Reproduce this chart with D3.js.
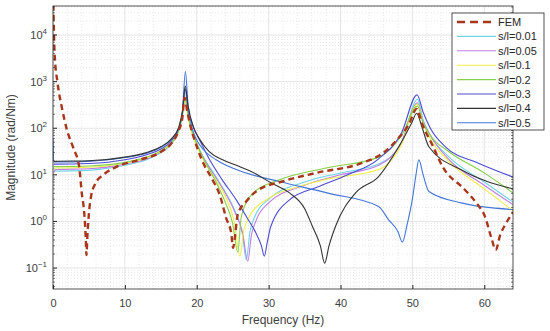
<!DOCTYPE html>
<html>
<head>
<meta charset="utf-8">
<script src="https://cdn.jsdelivr.net/npm/d3@7"></script>
<style>
  body { margin: 0; background: #fff; }
  svg { display: block; font-family: 'Liberation Sans', Arial, sans-serif; }
</style>
</head>
<body>
<div id="container"></div>
<script>
// values: frequency (Hz) and magnitude (rad/Nm)
const femF = [0.05, 0.22, 0.64, 1.25, 1.94, 2.85, 3.64, 4.0, 4.35, 4.55, 4.65, 4.8, 5.0, 5.3, 5.9, 7.0, 8.9, 12, 15, 16.5, 17.5, 18.0, 18.3, 18.7, 19.2, 19.7, 20.7, 22.2, 23.2, 24.1, 24.8, 25.05, 25.3, 25.7, 26.9, 28.25, 31.9, 36.6, 43, 46, 48, 49.5, 50.6, 51.3, 52.9, 54.1, 57.3, 58.9, 60.1, 61, 61.6, 62.2, 63, 63.6, 64]
const femM = [45000, 4100, 930, 270, 92, 37, 15, 4.1, 1.5, 0.47, 0.19, 0.55, 1.5, 3.5, 6.5, 10, 15, 21, 31, 48, 90, 170, 450, 220, 100, 56, 21, 7.8, 3.7, 1.17, 0.56, 0.27, 0.45, 1.4, 2.7, 4.4, 7.2, 11, 18, 30, 60, 120, 260, 130, 40, 16, 4.8, 2.5, 1.27, 0.44, 0.245, 0.5, 0.9, 1.27, 1.6]

const s001F = [0.1, 0.4, 5, 10, 13, 15, 16.5, 17.5, 18.0, 18.4, 18.8, 19.3, 20, 21, 22.5, 24, 25.3, 26.3, 26.9, 27.4, 28, 30, 35, 40, 45.3, 48.5, 50.7, 51.5, 52.5, 55, 60, 64]
const s001M = [14, 12, 12.5, 16, 21, 30, 46, 90, 200, 700, 200, 90, 48, 23, 10, 4.2, 1.7, 0.6, 0.15, 0.6, 1.2, 3, 7, 11, 17, 50, 420, 150, 70, 25, 7, 2.6]

const s005F = [0.1, 0.4, 5, 10, 13, 15, 16.5, 17.5, 18.0, 18.35, 18.8, 19.3, 20, 21, 22.5, 24, 25.3, 26.4, 27.1, 27.6, 28.2, 30, 35, 40, 45.3, 48.5, 50.7, 51.5, 52.5, 55, 60, 64]
const s005M = [11, 13, 13.5, 17, 22, 31, 47, 90, 190, 430, 180, 85, 45, 22, 9.5, 4, 1.6, 0.55, 0.14, 0.5, 1.0, 2.5, 6, 10, 16, 50, 350, 140, 70, 22, 6, 2.3]

const s01F = [0.1, 0.4, 5, 10, 13, 15, 16.5, 17.5, 18.0, 18.35, 18.8, 19.3, 20, 21, 22.5, 24, 25.2, 26.0, 26.5, 27.3, 30.1, 34, 38, 45.3, 48.5, 50.7, 51.5, 52.5, 55, 60, 64]
const s01M = [13, 14, 14.5, 18, 23, 32, 48, 88, 180, 420, 170, 80, 42, 20, 8.5, 3.4, 1.0, 0.18, 0.6, 1.26, 3.2, 5.5, 8, 13, 45, 330, 130, 60, 20, 5, 1.7]

const s02F = [0.1, 0.4, 5, 10, 13, 15, 16.5, 17.5, 18.0, 18.35, 18.7, 19.2, 19.8, 21, 22.5, 24, 25, 25.7, 26.2, 27.8, 31.5, 38, 45.3, 48.5, 50.7, 51.5, 52.5, 55, 60, 64]
const s02M = [15, 15, 15.5, 18.5, 24, 33, 50, 90, 190, 450, 230, 100, 56, 21, 8, 2.5, 0.9, 0.22, 1.26, 4, 7.8, 14, 24, 70, 300, 130, 70, 32, 11, 4.1]

const s03F = [0.1, 0.4, 5, 10, 13, 15, 16.5, 17.5, 18.0, 18.4, 18.8, 19.5, 20.4, 21.8, 23.5, 25.5, 27, 28.25, 29.0, 29.4, 29.8, 30.3, 32.9, 37, 41, 45.3, 48.5, 50.65, 51.5, 52.5, 54.6, 59.2, 64]
const s03M = [17, 17, 17.5, 21, 27, 36, 54, 98, 210, 700, 250, 110, 56, 21, 8, 2.9, 1.2, 0.56, 0.3, 0.18, 0.35, 0.78, 2.9, 5.6, 10, 22, 80, 520, 220, 100, 40, 17.8, 9]

const s04F = [0.1, 0.4, 5, 10, 13, 15, 16.5, 17.5, 18.0, 18.4, 18.8, 19.5, 20.5, 21.7, 23.6, 25.5, 27.5, 30.5, 32.9, 35, 36.1, 37.2, 37.8, 38.4, 39.3, 42.1, 45.3, 48.1, 49.9, 50.6, 51.3, 52.3, 56.8, 64]
const s04M = [19, 19.5, 20, 24, 30, 40, 60, 105, 230, 800, 300, 110, 55, 32, 21, 16, 12, 6.5, 4.1, 1.9, 0.78, 0.3, 0.127, 0.3, 0.78, 4.1, 9.2, 40, 130, 210, 110, 40, 12.8, 5]

const s05F = [0, 0.1, 0.4, 5, 10, 13, 15, 16.5, 17.5, 18.0, 18.42, 18.8, 19.3, 19.9, 20.9, 22.7, 26.9, 31.5, 38.4, 45.3, 46.7, 48.0, 48.6, 49.3, 50.0, 50.5, 50.9, 51.5, 52.3, 56.8, 64]
const s05M = [60, 20, 19, 19.5, 23.5, 29, 39, 58, 102, 220, 1650, 300, 110, 60, 35, 21, 10.9, 7.2, 4, 2.1, 1.08, 0.6, 0.36, 0.9, 3, 10, 21, 10, 4.4, 2.5, 1.8]

const seriesNames = ['FEM', 's/l=0.01', 's/l=0.05', 's/l=0.1', 's/l=0.2', 's/l=0.3', 's/l=0.4', 's/l=0.5']
const seriesF = [femF, s001F, s005F, s01F, s02F, s03F, s04F, s05F]
const seriesM = [femM, s001M, s005M, s01M, s02M, s03M, s04M, s05M]
const seriesColors = ['#a8361b', '#6fd5e6', '#c07de2', '#f2ef45', '#88cf4a', '#4c4cd2', '#333333', '#4477d8']

const xTicks = [0, 10, 20, 30, 40, 50, 60]
const yExps = [-1, 0, 1, 2, 3, 4]

chartIt()

function chartIt() {
  const w = 550
  const h = 331
  const left = 53
  const right = 513
  const top = 6
  const bottom = 289

  const svg = d3.select('div#container')
    .append('svg')
    .attr('width', w)
    .attr('height', h)

  const xScale = d3.scaleLinear()
    .domain([0, 64])
    .range([left, right])

  const yScale = d3.scaleLog()
    .domain([0.0355, 42000])
    .range([bottom, top])

  svg.append('defs').append('clipPath')
    .attr('id', 'plot-clip')
    .append('rect')
    .attr('x', left)
    .attr('y', top)
    .attr('width', right - left)
    .attr('height', bottom - top)

  // minor grid (dotted)
  const minorY = []
  for (let e = -2; e <= 4; e++) {
    for (let k = 2; k <= 9; k++) {
      const v = k * Math.pow(10, e)
      if (v > 0.0355 && v < 42000) minorY.push(v)
    }
  }
  const minorX = d3.range(2, 64, 2).filter(v => v % 10 !== 0)

  const grid = svg.append('g').attr('id', 'grid')
  grid.selectAll('.minor-y')
    .data(minorY)
    .enter().append('line')
    .attr('x1', left).attr('x2', right)
    .attr('y1', d => yScale(d)).attr('y2', d => yScale(d))
    .attr('stroke', '#d6d6d6')
    .attr('stroke-width', 0.6)
    .attr('stroke-dasharray', '1,2')
  grid.selectAll('.minor-x')
    .data(minorX)
    .enter().append('line')
    .attr('x1', d => xScale(d)).attr('x2', d => xScale(d))
    .attr('y1', top).attr('y2', bottom)
    .attr('stroke', '#dcdcdc')
    .attr('stroke-width', 0.6)
    .attr('stroke-dasharray', '1,2')
  grid.selectAll('.major-y')
    .data(yExps.map(e => Math.pow(10, e)))
    .enter().append('line')
    .attr('x1', left).attr('x2', right)
    .attr('y1', d => yScale(d)).attr('y2', d => yScale(d))
    .attr('stroke', '#dedede')
    .attr('stroke-width', 0.8)
  grid.selectAll('.major-x')
    .data(xTicks)
    .enter().append('line')
    .attr('x1', d => xScale(d)).attr('x2', d => xScale(d))
    .attr('y1', top).attr('y2', bottom)
    .attr('stroke', '#dedede')
    .attr('stroke-width', 0.8)

  // curves, drawn in the reverse legend order so FEM ends on top
  const plot = svg.append('g').attr('clip-path', 'url(#plot-clip)')
  const line = d3.line()
    .x(d => xScale(d[0]))
    .y(d => yScale(d[1]))
    .curve(d3.curveMonotoneX)

  const order = [1, 2, 3, 4, 5, 7, 6, 0]
  order.forEach(i => {
    const pts = seriesF[i].map((f, j) => [f, seriesM[i][j]])
    plot.append('path')
      .datum(pts)
      .attr('fill', 'none')
      .attr('stroke', seriesColors[i])
      .attr('stroke-width', i === 0 ? 2.4 : 1.1)
      .attr('stroke-dasharray', i === 0 ? '6,4' : null)
      .attr('d', line)
  })

  // axes box
  svg.append('rect')
    .attr('x', left).attr('y', top)
    .attr('width', right - left).attr('height', bottom - top)
    .attr('fill', 'none')
    .attr('stroke', '#262626')
    .attr('stroke-width', 0.8)

  const xAxis = d3.axisBottom(xScale)
    .tickValues(xTicks)
    .tickSize(-4)
    .tickPadding(10)
    .tickFormat(d3.format('d'))

  const gx = svg.append('g')
    .attr('transform', 'translate(0,' + bottom + ')')
    .call(xAxis)
    .attr('id', 'x-axis')
  gx.select('.domain').remove()
  gx.selectAll('text').attr('fill', '#404040').style('font-size', '11px')
  gx.selectAll('line').attr('stroke', '#262626')

  // y axis: ticks + minor ticks, labels as 10^n
  const gy = svg.append('g').attr('id', 'y-axis')
  gy.selectAll('.ytick')
    .data(yExps.map(e => Math.pow(10, e)))
    .enter().append('line')
    .attr('x1', left).attr('x2', left + 4)
    .attr('y1', d => yScale(d)).attr('y2', d => yScale(d))
    .attr('stroke', '#262626')
  gy.selectAll('.yminor')
    .data(minorY)
    .enter().append('line')
    .attr('x1', left).attr('x2', left + 2)
    .attr('y1', d => yScale(d)).attr('y2', d => yScale(d))
    .attr('stroke', '#262626')
    .attr('stroke-width', 0.6)
  gy.selectAll('.yminor-r')
    .data(minorY)
    .enter().append('line')
    .attr('x1', right).attr('x2', right - 2)
    .attr('y1', d => yScale(d)).attr('y2', d => yScale(d))
    .attr('stroke', '#262626')
    .attr('stroke-width', 0.6)

  const labels = gy.selectAll('.ylabel')
    .data(yExps)
    .enter().append('text')
    .attr('x', left - 6)
    .attr('y', d => yScale(Math.pow(10, d)) + 4)
    .attr('text-anchor', 'end')
    .attr('fill', '#404040')
    .style('font-size', '11px')
  labels.append('tspan').text('10')
  labels.append('tspan')
    .attr('dy', -5)
    .style('font-size', '8px')
    .text(d => String(d).replace('-', '\u2212'))

  svg.append('text')
    .attr('x', (left + right) / 2)
    .attr('y', 324)
    .attr('text-anchor', 'middle')
    .attr('fill', '#404040')
    .style('font-size', '12px')
    .text('Frequency (Hz)')

  svg.append('text')
    .attr('transform', 'rotate(-90)')
    .attr('x', -(top + bottom) / 2)
    .attr('y', 15)
    .attr('text-anchor', 'middle')
    .attr('fill', '#404040')
    .style('font-size', '12px')
    .text('Magnitude (rad/Nm)')

  // legend
  const legend = svg.append('g').attr('id', 'legend')
  legend.append('rect')
    .attr('x', 452).attr('y', 13)
    .attr('width', 92).attr('height', 117)
    .attr('fill', '#fff')
    .attr('stroke', '#262626')
    .attr('stroke-width', 0.8)

  seriesNames.forEach((name, i) => {
    const yy = 22 + i * 14.4
    legend.append('line')
      .attr('x1', 457).attr('x2', 496)
      .attr('y1', yy).attr('y2', yy)
      .attr('stroke', seriesColors[i])
      .attr('stroke-width', i === 0 ? 2.4 : 1.1)
      .attr('stroke-dasharray', i === 0 ? '8,5' : null)
    legend.append('text')
      .attr('x', 498)
      .attr('y', yy + 4)
      .attr('fill', '#262626')
      .style('font-size', '11px')
      .text(name)
  })
}
</script>
</body>
</html>
